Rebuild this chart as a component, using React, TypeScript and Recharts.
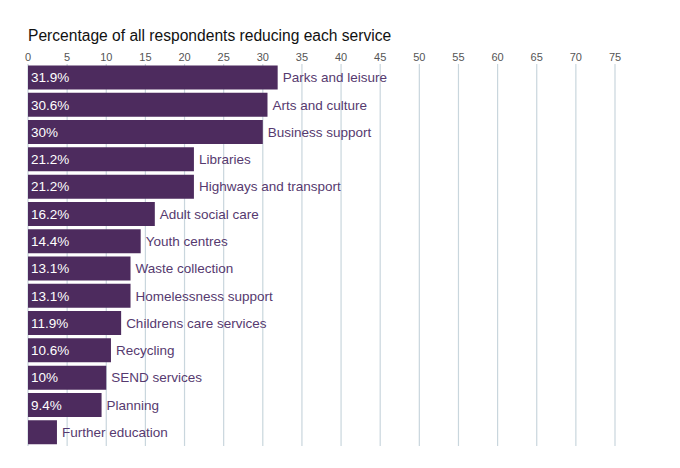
import { BarChart, Bar, XAxis, YAxis, CartesianGrid, LabelList } from 'recharts';

const services = [
  'Parks and leisure',
  'Arts and culture',
  'Business support',
  'Libraries',
  'Highways and transport',
  'Adult social care',
  'Youth centres',
  'Waste collection',
  'Homelessness support',
  'Childrens care services',
  'Recycling',
  'SEND services',
  'Planning',
  'Further education',
];

const percentages = [31.9, 30.6, 30, 21.2, 21.2, 16.2, 14.4, 13.1, 13.1, 11.9, 10.6, 10, 9.4, 3.7];

const axisTicks = [0, 5, 10, 15, 20, 25, 30, 35, 40, 45, 50, 55, 60, 65, 70, 75];

const chartData = services.map((name, i) => ({ name, value: percentages[i] }));

const FONT = '"Liberation Sans", Arial, Helvetica, sans-serif';
const BAR_COLOR = '#4d2b5e';
const TEXT_PURPLE = '#563a6f';

function ValueLabel(props: any) {
  const { x, y, height, value } = props;
  if (value < 5) return null;
  return (
    <text
      x={x + 3}
      y={y + height / 2}
      dy="0.355em"
      fill="#ffffff"
      fontSize={13.5}
      fontFamily={FONT}
      textAnchor="start"
    >
      {value}%
    </text>
  );
}

export default function App() {
  return (
    <div style={{ position: 'absolute', left: 0, top: 0, width: 680, height: 468, background: '#fff', fontFamily: FONT }}>
      <div
        style={{
          position: 'absolute',
          left: 28,
          top: 27.8,
          fontSize: 15.6,
          lineHeight: 1,
          color: '#111',
          whiteSpace: 'nowrap',
        }}
      >
        Percentage of all respondents reducing each service
      </div>
      <BarChart
        width={680}
        height={468}
        data={chartData}
        layout="vertical"
        margin={{ top: 44, right: 65, bottom: 22, left: 28 }}
        barCategoryGap={1.5}
      >
        <CartesianGrid horizontal={false} stroke="#c9d6dd" strokeWidth={1.2} />
        <XAxis
          type="number"
          orientation="top"
          domain={[0, 75]}
          ticks={axisTicks}
          height={20}
          axisLine={false}
          tickLine={false}
          tickSize={0}
          tickMargin={3}
          tick={{ fill: '#555', fontSize: 11, fontFamily: FONT }}
          interval={0}
        />
        <YAxis
          type="category"
          dataKey="name"
          width={0}
          tick={false}
          tickLine={false}
          axisLine={{ stroke: '#111', strokeWidth: 1.5 }}
        />
        <Bar dataKey="value" fill={BAR_COLOR} isAnimationActive={false}>
          <LabelList dataKey="value" content={ValueLabel} />
          <LabelList
            dataKey="name"
            position="right"
            offset={5}
            fill={TEXT_PURPLE}
            fontSize={13.5}
            fontFamily={FONT}
          />
        </Bar>
      </BarChart>
    </div>
  );
}
